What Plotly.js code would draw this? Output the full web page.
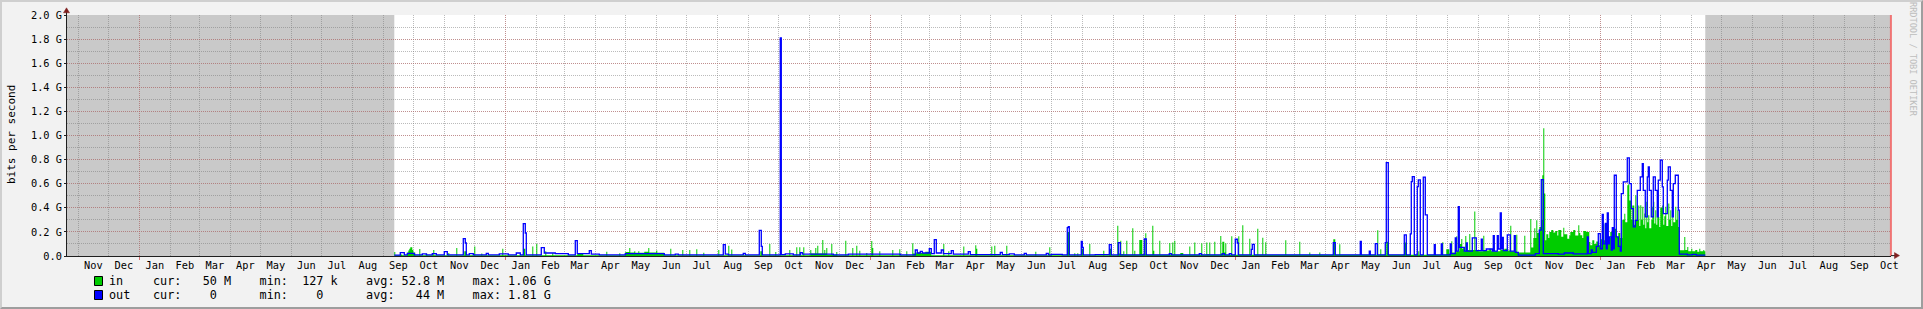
<!DOCTYPE html>
<html><head><meta charset="utf-8">
<script src="https://cdn.plot.ly/plotly-3.0.1.min.js"></script>
<style>
html,body{margin:0;padding:0;background:#F2F2F2;}
#wrap{position:relative;width:1923px;height:309px;overflow:hidden;}
#chart{width:1923px;height:309px;}
#frame{position:absolute;left:0;top:0;width:1923px;height:309px;box-sizing:border-box;border-top:2px solid #CFCFCF;border-left:2px solid #CFCFCF;border-bottom:2px solid #9E9E9E;border-right:2px solid #9E9E9E;pointer-events:none;}
</style></head><body>
<div id="wrap"><div id="chart"></div><div id="frame"></div></div>
<script>
// ---- data (Mbit/s), step values: each value holds from its date to the next date ----
const inPoints = [
['2016-09-12',33],['2016-09-13',6],['2016-09-18',12],['2016-09-20',6],['2016-09-25',30],['2016-09-26',45],['2016-09-27',60],['2016-09-28',72],['2016-09-30',50],['2016-10-01',30],['2016-10-03',6],
['2016-10-07',58],['2016-10-08',6],['2016-10-14',20],['2016-10-15',6],['2016-10-21',50],['2016-10-22',6],['2016-11-05',25],['2016-11-06',6],['2016-11-13',66],['2016-11-14',6],
['2016-11-21',40],['2016-11-23',6],['2016-12-01',78],['2016-12-02',6],['2016-12-08',20],['2016-12-09',6],['2016-12-29',61],['2016-12-30',6],
['2017-01-19',60],['2017-01-21',6],['2017-01-28',78],['2017-01-29',6],['2017-02-01',100],['2017-02-02',6],['2017-02-10',39],['2017-02-11',6],['2017-02-17',25],['2017-02-18',6],
['2017-03-14',20],['2017-03-20',6],['2017-04-12',36],['2017-04-13',6],['2017-04-25',22],['2017-04-26',6],
['2017-05-01',33],['2017-05-05',66],['2017-05-06',30],['2017-05-10',40],['2017-05-11',28],['2017-05-14',40],['2017-05-15',28],['2017-05-20',35],['2017-05-24',66],['2017-05-25',30],['2017-06-01',45],['2017-06-02',28],['2017-06-09',6],
['2017-06-15',61],['2017-06-16',6],['2017-06-27',50],['2017-06-28',6],['2017-07-04',50],['2017-07-05',6],['2017-07-11',55],['2017-07-12',6],['2017-07-18',28],['2017-07-19',6],
['2017-08-02',50],['2017-08-03',6],['2017-08-12',86],['2017-08-13',6],['2017-08-15',53],['2017-08-16',6],['2017-09-13',40],['2017-09-15',6],['2017-09-22',100],['2017-09-23',6],['2017-09-28',33],['2017-09-29',6],
['2017-10-12',50],['2017-10-13',6],['2017-10-19',72],['2017-10-20',6],['2017-10-22',72],['2017-10-23',6],['2017-10-26',72],['2017-10-27',6],
['2017-11-02',50],['2017-11-03',20],['2017-11-07',66],['2017-11-08',20],['2017-11-09',86],['2017-11-10',20],['2017-11-14',133],['2017-11-15',20],['2017-11-16',50],['2017-11-17',20],['2017-11-18',66],['2017-11-19',10],['2017-11-23',100],['2017-11-24',10],['2017-11-28',33],['2017-11-29',6],
['2017-12-07',127],['2017-12-08',6],['2017-12-14',66],['2017-12-15',6],['2017-12-18',86],['2017-12-19',6],['2017-12-21',44],['2017-12-22',6],['2017-12-28',25],['2017-12-29',6],
['2018-01-02',125],['2018-01-03',66],['2018-01-04',6],['2018-01-10',39],['2018-01-11',6],['2018-01-23',50],['2018-01-24',6],['2018-01-30',55],['2018-01-31',6],
['2018-02-06',39],['2018-02-07',6],['2018-02-12',105],['2018-02-13',20],['2018-02-16',30],['2018-02-20',25],['2018-02-25',35],['2018-03-03',6],['2018-03-15',100],['2018-03-16',6],['2018-03-20',39],['2018-03-21',6],
['2018-04-04',78],['2018-04-05',6],['2018-04-16',89],['2018-04-17',61],['2018-04-18',6],['2018-05-02',78],['2018-05-03',6],['2018-05-05',86],['2018-05-06',6],['2018-05-17',86],['2018-05-18',6],
['2018-06-15',36],['2018-06-16',6],['2018-06-29',72],['2018-06-30',6],['2018-07-17',200],['2018-07-19',6],['2018-07-24',22],['2018-07-25',6],['2018-07-27',22],['2018-07-28',6],['2018-07-31',60],['2018-08-02',6],
['2018-08-08',100],['2018-08-09',6],['2018-08-22',44],['2018-08-23',6],['2018-08-28',60],['2018-08-30',6],
['2018-09-05',252],['2018-09-06',20],['2018-09-08',127],['2018-09-09',15],['2018-09-11',39],['2018-09-12',10],['2018-09-14',127],['2018-09-15',10],['2018-09-20',230],['2018-09-21',10],['2018-09-22',44],['2018-09-23',10],['2018-09-27',133],['2018-09-30',15],
['2018-10-03',188],['2018-10-04',10],['2018-10-10',252],['2018-10-11',44],['2018-10-12',10],['2018-10-17',127],['2018-10-18',10],['2018-10-27',108],['2018-10-28',10],['2018-10-30',111],['2018-10-31',10],
['2018-11-01',127],['2018-11-02',10],['2018-11-07',25],['2018-11-10',10],['2018-11-16',78],['2018-11-17',10],['2018-11-21',111],['2018-11-22',10],['2018-11-28',105],['2018-11-29',10],
['2018-12-03',111],['2018-12-04',15],['2018-12-06',111],['2018-12-07',10],['2018-12-11',119],['2018-12-12',10],['2018-12-17',166],['2018-12-18',20],['2018-12-19',119],['2018-12-21',30],['2018-12-22',105],['2018-12-23',10],['2018-12-28',163],['2018-12-29',10],
['2019-01-04',163],['2019-01-05',10],['2019-01-08',255],['2019-01-09',10],['2019-01-15',144],['2019-01-16',10],['2019-01-23',227],['2019-01-24',10],['2019-01-28',152],['2019-01-29',10],['2019-01-31',114],['2019-02-01',10],
['2019-02-20',130],['2019-02-21',10],['2019-03-06',119],['2019-03-07',10],['2019-03-16',30],['2019-03-17',10],['2019-03-26',30],['2019-03-27',10],['2019-04-09',139],['2019-04-11',10],['2019-04-15',97],['2019-04-16',10],
['2019-05-23',213],['2019-05-24',10],['2019-05-26',55],['2019-05-27',10],['2019-06-01',119],['2019-06-03',10],['2019-06-19',111],['2019-06-21',10],['2019-07-03',40],['2019-07-04',10],
['2019-07-27',114],['2019-07-28',10],['2019-07-31',55],['2019-08-03',20],['2019-08-05',122],['2019-08-06',30],['2019-08-10',164],['2019-08-11',40],['2019-08-13',100],['2019-08-15',141],['2019-08-16',60],['2019-08-17',72],['2019-08-18',40],
['2019-08-19',166],['2019-08-20',50],['2019-08-23',183],['2019-08-24',50],['2019-08-28',369],['2019-08-29',50],['2019-09-01',40],['2019-09-06',169],['2019-09-07',45],['2019-09-12',60],['2019-09-14',40],
['2019-09-23',294],['2019-09-24',50],['2019-09-27',60],['2019-09-30',45],['2019-10-03',252],['2019-10-04',40],['2019-10-09',177],['2019-10-10',30],['2019-10-17',169],['2019-10-18',30],
['2019-10-23',307],['2019-10-24',70],['2019-10-26',150],['2019-10-27',230],['2019-10-28',150],['2019-10-29',296],['2019-10-30',190],['2019-11-01',240],['2019-11-03',300],
['2019-11-04',670],['2019-11-05',1060],['2019-11-06',518],['2019-11-07',130],['2019-11-08',180],['2019-11-10',150],['2019-11-11',200],['2019-11-13',215],['2019-11-15',195],['2019-11-17',208],['2019-11-19',170],['2019-11-20',215],['2019-11-23',160],['2019-11-25',235],['2019-11-26',180],['2019-11-29',144],
['2019-12-01',170],['2019-12-02',200],['2019-12-05',215],['2019-12-07',170],['2019-12-10',255],['2019-12-11',190],['2019-12-12',172],['2019-12-14',150],['2019-12-15',208],['2019-12-18',200],['2019-12-21',116],['2019-12-22',90],['2019-12-24',130],['2019-12-26',100],['2019-12-28',120],['2019-12-30',90],
['2020-01-01',140],['2020-01-03',170],['2020-01-04',263],['2020-01-05',130],['2020-01-07',180],['2020-01-09',150],['2020-01-11',200],['2020-01-13',140],['2020-01-15',227],['2020-01-17',160],['2020-01-19',190],['2020-01-21',150],['2020-01-23',300],['2020-01-25',350],['2020-01-26',280],['2020-01-28',587],['2020-01-29',595],['2020-01-30',460],
['2020-02-01',300],['2020-02-02',420],['2020-02-04',260],['2020-02-05',504],['2020-02-06',300],['2020-02-08',420],['2020-02-09',250],['2020-02-10',421],['2020-02-11',300],['2020-02-12',408],['2020-02-13',260],['2020-02-14',352],['2020-02-15',230],['2020-02-16',450],['2020-02-17',280],['2020-02-18',338],['2020-02-19',230],['2020-02-21',300],['2020-02-22',408],['2020-02-23',450],['2020-02-24',270],['2020-02-25',380],['2020-02-26',260],['2020-02-27',450],['2020-02-28',324],['2020-02-29',240],
['2020-03-01',400],['2020-03-03',420],['2020-03-04',260],['2020-03-05',330],['2020-03-06',408],['2020-03-07',250],['2020-03-09',435],['2020-03-10',300],['2020-03-11',380],['2020-03-12',250],['2020-03-13',393],['2020-03-14',280],['2020-03-16',408],['2020-03-17',300],['2020-03-18',380],['2020-03-19',241],
['2020-03-20',47],['2020-03-25',158],['2020-03-26',50],['2020-03-28',75],['2020-03-29',40],['2020-04-01',61],['2020-04-02',40],['2020-04-05',50],['2020-04-07',35],['2020-04-09',61],['2020-04-10',40],['2020-04-13',50],['2020-04-14',40],['2020-04-15',40]
];

const outPoints = [
['2016-09-12',8],['2016-09-18',28],['2016-09-22',10],['2016-09-25',22],['2016-10-02',10],['2016-10-10',18],['2016-10-14',10],['2016-10-20',20],['2016-10-24',10],
['2016-11-01',36],['2016-11-04',10],['2016-11-20',145],['2016-11-22',108],['2016-11-23',10],['2016-11-26',20],['2016-11-30',10],['2016-12-13',22],['2016-12-15',10],['2016-12-26',18],
['2017-01-04',10],['2017-01-12',25],['2017-01-16',10],['2017-01-19',268],['2017-01-21',191],['2017-01-22',10],['2017-02-06',70],['2017-02-09',25],['2017-02-20',20],['2017-03-05',10],
['2017-03-12',128],['2017-03-14',20],['2017-03-26',44],['2017-03-28',15],['2017-04-05',10],['2017-05-01',19],['2017-06-09',10],['2017-06-20',15],['2017-06-23',10],
['2017-08-07',94],['2017-08-09',15],['2017-08-12',10],['2017-08-27',22],['2017-08-29',10],['2017-09-12',213],['2017-09-14',80],['2017-09-15',10],
['2017-10-03',1810],['2017-10-04',12],['2017-10-08',17],['2017-10-16',10],['2017-10-23',28],['2017-10-25',15],['2017-11-25',10],['2017-12-10',15],
['2018-01-31',10],['2018-02-15',50],['2018-02-17',25],['2018-02-20',39],['2018-02-22',25],['2018-03-01',61],['2018-03-03',20],['2018-03-06',136],['2018-03-08',25],['2018-03-13',50],['2018-03-15',20],['2018-03-23',44],['2018-03-25',15],['2018-04-09',36],['2018-04-11',12],
['2018-05-11',30],['2018-05-13',12],['2018-05-20',17],['2018-05-25',10],['2018-06-04',22],['2018-06-06',10],['2018-06-26',22],['2018-06-28',10],['2018-07-01',14],['2018-07-12',10],
['2018-07-17',235],['2018-07-18',244],['2018-07-19',10],['2018-07-31',122],['2018-08-01',72],['2018-08-02',10],['2018-08-14',11],['2018-08-28',95],['2018-08-30',10],['2018-09-06',111],['2018-09-08',10],
['2018-10-02',141],['2018-10-04',10],['2018-10-27',20],['2018-10-29',10],['2018-11-26',20],['2018-11-28',10],['2018-12-19',20],['2018-12-21',10],['2018-12-26',20],['2018-12-28',10],
['2019-01-01',139],['2019-01-03',108],['2019-01-04',10],['2019-01-17',55],['2019-01-18',97],['2019-01-20',10],['2019-04-09',110],['2019-04-11',10],['2019-05-06',122],['2019-05-07',10],
['2019-05-15',41],['2019-05-16',10],['2019-05-21',102],['2019-05-23',10],['2019-05-31',111],['2019-06-01',775],['2019-06-03',10],['2019-06-19',175],['2019-06-21',10],
['2019-06-25',183],['2019-06-26',618],['2019-06-27',659],['2019-06-29',10],['2019-07-02',576],['2019-07-03',632],['2019-07-05',10],['2019-07-08',654],['2019-07-10',341],['2019-07-12',10],
['2019-07-19',94],['2019-07-20',10],['2019-07-26',100],['2019-07-27',10],['2019-08-04',100],['2019-08-05',20],['2019-08-09',150],['2019-08-10',40],['2019-08-12',410],['2019-08-13',72],['2019-08-18',40],
['2019-08-20',108],['2019-08-21',40],['2019-08-26',150],['2019-08-30',44],['2019-09-04',139],['2019-09-05',44],['2019-09-09',58],['2019-09-15',40],['2019-09-16',169],['2019-09-17',40],['2019-09-20',169],['2019-09-21',58],
['2019-09-23',357],['2019-09-24',60],['2019-09-25',155],['2019-09-26',44],['2019-09-30',175],['2019-10-03',40],['2019-10-07',169],['2019-10-08',30],['2019-10-11',8],['2019-10-28',20],
['2019-11-01',215],['2019-11-03',634],['2019-11-05',20],['2019-11-20',15],['2019-11-26',25],['2019-12-05',18],['2019-12-19',158],['2019-12-20',20],['2019-12-23',50],['2019-12-24',30],['2019-12-28',80],['2019-12-30',186],
['2020-01-01',60],['2020-01-03',346],['2020-01-04',100],['2020-01-06',270],['2020-01-07',60],['2020-01-08',357],['2020-01-09',100],['2020-01-10',158],['2020-01-12',50],['2020-01-13',235],['2020-01-14',60],['2020-01-15',670],['2020-01-17',158],['2020-01-19',80],['2020-01-21',40],
['2020-01-22',518],['2020-01-24',615],['2020-01-28',814],['2020-01-30',600],['2020-02-01',393],['2020-02-03',241],['2020-02-05',296],['2020-02-07',545],['2020-02-10',656],['2020-02-12',767],['2020-02-13',545],['2020-02-15',324],['2020-02-17',656],['2020-02-18',740],['2020-02-19',545],['2020-02-21',324],['2020-02-23',656],['2020-02-25',545],['2020-02-27',324],['2020-02-28',629],
['2020-03-01',795],['2020-03-03',573],['2020-03-04',352],['2020-03-08',629],['2020-03-09',740],['2020-03-11',545],['2020-03-13',324],['2020-03-14',600],['2020-03-16',670],['2020-03-19',380],['2020-03-20',15],['2020-03-28',10],['2020-04-02',14],['2020-04-06',8],['2020-04-15',8]
];

const xRange = ['2015-10-20 17:00', '2020-10-17 17:00'];
const yTickValues = [0,200,400,600,800,1000,1200,1400,1600,1800,2000];
const yTickLabels = ['0.0','0.2 G','0.4 G','0.6 G','0.8 G','1.0 G','1.2 G','1.4 G','1.6 G','1.8 G','2.0 G'];
const seriesNames = ['in','out'];
const seriesColors = ['#00CC00','#0000FF'];
const statLabels = ['cur:','min:','avg:','max:'];
const statNumbers = [['50','127','52.8','1.06'], ['0','0','44','1.81']];
const statUnits = [['M','k','M','G'], ['',' ','M','G']];
const yTitle = 'bits per second';
const sideText = 'RRDTOOL / TOBI OETIKER';

// ---- layout helpers ----
const W = 1923, H = 309, ML = 67, MR = 32, MT = 15, MB = 53;
const PW = W - ML - MR, PH = H - MT - MB;
const px = x => (x - ML) / PW;
const py = y => (MT + PH - y) / PH;
const mono = 'DejaVu Sans Mono, monospace';
const nb = s => s.replace(/ /g, '\u00A0');

const traceIn = {
  type: 'scatter', mode: 'lines', xaxis: 'x', yaxis: 'y',
  x: inPoints.map(p => p[0]), y: inPoints.map(p => p[1]),
  line: {shape: 'hv', width: 0, color: seriesColors[0]},
  fill: 'tozeroy', fillcolor: seriesColors[0], hoverinfo: 'skip'
};
const traceOut = {
  type: 'scatter', mode: 'lines', xaxis: 'x2', yaxis: 'y',
  x: outPoints.map(p => p[0]), y: outPoints.map(p => p[1]),
  line: {shape: 'hv', width: 1.3, color: seriesColors[1]}, hoverinfo: 'skip'
};

const minorGrid = 'rgba(120,120,120,0.5)';
const majorGrid = 'rgba(200,90,90,0.45)';
const dots = '1px,1px';
const arrowC = '#7F1F1F';

const annotations = [];
const shapes = [];

// unknown-data shading (before first and after last sample)
shapes.push({type:'rect', layer:'below', xref:'x', yref:'paper', x0:xRange[0], x1:inPoints[0][0], y0:0, y1:1, fillcolor:'#C9C9C9', line:{width:0}});
shapes.push({type:'rect', layer:'below', xref:'x', yref:'paper', x0:inPoints[inPoints.length-1][0], x1:xRange[1], y0:0, y1:1, fillcolor:'#C9C9C9', line:{width:0}});
// right edge marker
shapes.push({type:'line', layer:'above', xref:'paper', yref:'paper', x0:px(1890.9), x1:px(1890.9), y0:0, y1:1, line:{color:'#F07474', width:2}});
// axis extensions + arrows
shapes.push({type:'line', xref:'paper', yref:'paper', x0:px(66.5), x1:px(66.5), y0:1, y1:py(12), line:{color:'#1F1F1F', width:1}});
shapes.push({type:'path', xref:'paper', yref:'paper', path:`M ${px(63.5)} ${py(12.8)} L ${px(66.5)} ${py(7.8)} L ${px(69.5)} ${py(12.8)} Z`, fillcolor:arrowC, line:{color:arrowC, width:0.5}});
shapes.push({type:'line', xref:'paper', yref:'paper', x0:1, x1:px(1895), y0:py(255.6), y1:py(255.6), line:{color:'#1F1F1F', width:1}});
shapes.push({type:'path', xref:'paper', yref:'paper', path:`M ${px(1894.5)} ${py(252.6)} L ${px(1899.5)} ${py(255.6)} L ${px(1894.5)} ${py(258.6)} Z`, fillcolor:arrowC, line:{color:arrowC, width:0.5}});

// legend
const rowY = [281, 295];
seriesNames.forEach((name, i) => {
  shapes.push({type:'rect', xref:'paper', yref:'paper', x0:px(94.5), x1:px(102.5), y0:py(rowY[i]+4.5), y1:py(rowY[i]-4.5), fillcolor:seriesColors[i], line:{color:'#000', width:1}});
  annotations.push({xref:'paper', yref:'paper', x:px(107), y:py(rowY[i]), xanchor:'left', yanchor:'middle', showarrow:false, text:nb(name), font:{family:mono, size:11.8, color:'#000'}});
  const row = statLabels.map((l, k) => l + statNumbers[i][k].padStart(5) + ' ' + (statUnits[i][k] || ' ')).join('    ');
  annotations.push({xref:'paper', yref:'paper', x:px(151), y:py(rowY[i]), xanchor:'left', yanchor:'middle', showarrow:false, text:nb(row), font:{family:mono, size:11.8, color:'#000'}});
});
annotations.push({xref:'paper', yref:'paper', x:px(11), y:py(135), xanchor:'center', yanchor:'middle', textangle:-90, showarrow:false, text:nb(yTitle), font:{family:mono, size:11, color:'#000'}});
annotations.push({xref:'paper', yref:'paper', x:px(1913), y:py(60), xanchor:'center', yanchor:'middle', textangle:90, showarrow:false, text:nb(sideText), font:{family:mono, size:8.6, color:'#BDBDBD'}});

const layout = {
  width: W, height: H,
  margin: {l: ML, r: MR, t: MT, b: MB, pad: 0},
  paper_bgcolor: '#F2F2F2', plot_bgcolor: '#FFFFFF',
  showlegend: false,
  font: {family: mono, size: 10.3, color: '#000'},
  xaxis: {
    type: 'date', range: xRange, tickmode: 'linear', tick0: '2015-11-01', dtick: 'M1',
    ticklabelmode: 'period', tickformat: '%b',
    showgrid: true, gridcolor: minorGrid, griddash: dots, gridwidth: 1,
    ticks: '', showline: true, linecolor: '#1F1F1F', linewidth: 1, zeroline: false,
    tickfont: {family: mono, size: 10.3, color: '#000'}, fixedrange: true
  },
  xaxis2: {
    type: 'date', range: xRange, overlaying: 'x', anchor: 'y', side: 'bottom',
    tickmode: 'linear', tick0: '2016-01-01', dtick: 'M12', showticklabels: false,
    showgrid: true, gridcolor: majorGrid, griddash: dots, gridwidth: 1,
    ticks: 'outside', ticklen: 3, tickcolor: 'rgba(200,60,60,0.7)', showline: false, zeroline: false, fixedrange: true
  },
  yaxis: {
    range: [0, 2000], tickmode: 'array', tickvals: yTickValues, ticktext: yTickLabels,
    showgrid: true, gridcolor: majorGrid, griddash: dots, gridwidth: 1,
    minor: {tickmode: 'linear', tick0: 0, dtick: 100, showgrid: true, gridcolor: minorGrid, griddash: dots, ticks: ''},
    ticks: 'outside', ticklen: 2, tickcolor: '#1F1F1F',
    showline: true, linecolor: '#1F1F1F', linewidth: 1, zeroline: false,
    tickfont: {family: mono, size: 10.3, color: '#000'}, fixedrange: true
  },
  shapes: shapes,
  annotations: annotations
};

Plotly.newPlot('chart', [traceIn, traceOut], layout, {staticPlot: true, displayModeBar: false});
</script>
</body></html>
